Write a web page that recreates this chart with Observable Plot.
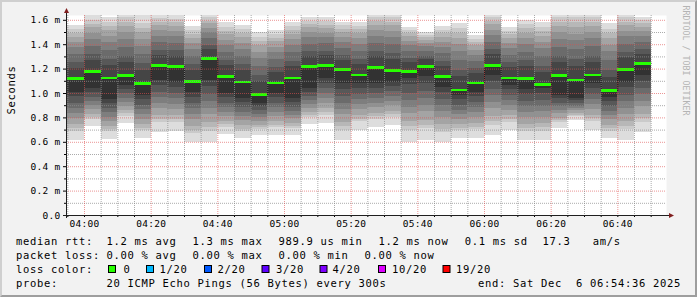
<!DOCTYPE html>
<html><head><meta charset="utf-8">
<script src="https://cdn.jsdelivr.net/npm/d3@7"></script>
<script src="https://cdn.jsdelivr.net/npm/@observablehq/plot@0.6"></script>
<style>
html,body{margin:0;padding:0;background:#f2f2f2;}
#wrap{position:relative;width:697px;height:297px;background:#f2f2f2;overflow:hidden;font-family:"DejaVu Sans Mono",monospace;}
#chart{position:absolute;left:0;top:0;}
#legend{position:absolute;left:0;top:232px;}
#chart svg,#legend svg{display:block;overflow:visible;}
#chart svg text{letter-spacing:0.28px;}
#legend svg text{letter-spacing:0.68px;font-family:"DejaVu Sans Mono",monospace;font-size:10.5px;fill:#000;white-space:pre;}
#frame{position:absolute;left:0;top:0;width:697px;height:297px;box-sizing:border-box;border-style:solid;border-width:2px;border-color:#cfcfcf #9e9e9e #9e9e9e #cfcfcf;pointer-events:none;}
</style></head>
<body>
<div id="wrap"><div id="chart"></div><div id="legend"></div><div id="frame"></div></div>
<script>
// ---- data ----
const day = "2025-12-06";
const viewStart = "03:54:36", viewEnd = "06:54:36";
const slots = ["03:55","04:00","04:05","04:10","04:15","04:20","04:25","04:30","04:35","04:40","04:45","04:50",
  "04:55","05:00","05:05","05:10","05:15","05:20","05:25","05:30","05:35","05:40","05:45","05:50",
  "05:55","06:00","06:05","06:10","06:15","06:20","06:25","06:30","06:35","06:40","06:45"];
const medians = [1.122,1.181,1.126,1.148,1.081,1.228,1.220,1.097,1.285,1.138,1.094,0.993,1.088,1.127,1.220,1.231,1.195,1.151,
  1.212,1.187,1.179,1.220,1.140,1.029,1.088,1.231,1.127,1.124,1.072,1.149,1.110,1.153,1.023,1.198,1.247];
const pings = [
 [0.616,0.687,0.711,0.743,0.794,0.834,0.877,0.921,0.972,1.012,1.122,1.209,1.253,1.319,1.375,1.419,1.463,1.493,1.524,1.559],
 [0.733,0.788,0.807,0.831,0.871,0.902,0.936,0.969,1.009,1.040,1.181,1.273,1.319,1.386,1.445,1.491,1.537,1.566,1.600,1.700],
 [0.627,0.685,0.705,0.731,0.773,0.806,0.841,0.877,0.919,0.952,1.126,1.226,1.276,1.351,1.415,1.465,1.515,1.550,1.585,1.625],
 [0.758,0.814,0.832,0.857,0.897,0.928,0.962,0.996,1.036,1.067,1.148,1.252,1.304,1.379,1.445,1.497,1.549,1.582,1.620,1.700],
 [0.630,0.694,0.715,0.744,0.790,0.826,0.865,0.904,0.950,0.986,1.081,1.189,1.242,1.321,1.389,1.443,1.497,1.531,1.570,1.700],
 [0.684,0.760,0.786,0.820,0.875,0.918,0.964,1.011,1.066,1.109,1.228,1.313,1.355,1.417,1.471,1.514,1.556,1.583,1.614,1.700],
 [0.687,0.760,0.785,0.817,0.870,0.911,0.956,1.000,1.053,1.094,1.220,1.306,1.349,1.411,1.466,1.509,1.552,1.579,1.610,1.700],
 [0.602,0.676,0.700,0.733,0.786,0.827,0.873,0.918,0.971,1.012,1.097,1.188,1.234,1.302,1.361,1.407,1.453,1.485,1.517,1.553],
 [0.597,0.689,0.720,0.761,0.827,0.879,0.935,0.991,1.058,1.109,1.285,1.359,1.396,1.449,1.496,1.533,1.570,1.593,1.620,1.700],
 [0.662,0.722,0.743,0.770,0.813,0.847,0.884,0.921,0.964,0.998,1.138,1.226,1.270,1.336,1.393,1.437,1.481,1.512,1.543,1.578],
 [0.630,0.689,0.709,0.735,0.778,0.810,0.846,0.883,0.925,0.958,1.094,1.187,1.234,1.303,1.364,1.410,1.457,1.489,1.522,1.559],
 [0.657,0.704,0.719,0.740,0.774,0.800,0.829,0.857,0.891,0.917,0.993,1.095,1.146,1.223,1.289,1.340,1.392,1.427,1.463,1.504],
 [0.657,0.719,0.739,0.767,0.811,0.846,0.883,0.921,0.966,1.000,1.088,1.174,1.217,1.282,1.337,1.380,1.423,1.454,1.484,1.518],
 [0.657,0.711,0.729,0.753,0.792,0.823,0.856,0.889,0.928,0.958,1.127,1.219,1.265,1.334,1.393,1.439,1.485,1.517,1.549,1.586],
 [0.750,0.802,0.820,0.843,0.880,0.909,0.941,0.973,1.011,1.040,1.220,1.301,1.342,1.403,1.456,1.497,1.537,1.566,1.594,1.627],
 [0.757,0.823,0.845,0.874,0.921,0.958,0.998,1.038,1.085,1.122,1.231,1.309,1.347,1.406,1.456,1.495,1.534,1.561,1.588,1.619],
 [0.616,0.700,0.727,0.764,0.825,0.871,0.922,0.973,1.034,1.080,1.195,1.273,1.312,1.371,1.422,1.461,1.500,1.527,1.555,1.586],
 [0.698,0.767,0.790,0.820,0.870,0.908,0.950,0.992,1.042,1.080,1.151,1.238,1.282,1.347,1.403,1.447,1.490,1.521,1.551,1.586],
 [0.725,0.789,0.810,0.839,0.885,0.920,0.959,0.998,1.044,1.080,1.212,1.302,1.347,1.412,1.469,1.514,1.559,1.587,1.620,1.700],
 [0.740,0.804,0.825,0.853,0.899,0.935,0.974,1.013,1.059,1.094,1.187,1.282,1.330,1.399,1.460,1.507,1.555,1.585,1.620,1.700],
 [0.602,0.696,0.727,0.768,0.836,0.888,0.945,1.002,1.070,1.122,1.179,1.252,1.289,1.344,1.391,1.428,1.464,1.490,1.516,1.545],
 [0.616,0.710,0.741,0.782,0.850,0.902,0.959,1.016,1.084,1.136,1.220,1.276,1.304,1.346,1.382,1.410,1.438,1.457,1.477,1.499],
 [0.600,0.682,0.709,0.745,0.804,0.849,0.899,0.949,1.008,1.053,1.140,1.223,1.264,1.326,1.380,1.421,1.462,1.491,1.520,1.553],
 [0.630,0.694,0.715,0.744,0.790,0.825,0.864,0.903,0.949,0.985,1.029,1.138,1.192,1.273,1.344,1.398,1.453,1.491,1.529,1.572],
 [0.635,0.703,0.725,0.756,0.805,0.842,0.884,0.925,0.974,1.012,1.088,1.166,1.205,1.263,1.314,1.353,1.391,1.419,1.446,1.477],
 [0.652,0.741,0.771,0.811,0.876,0.925,0.980,1.035,1.099,1.149,1.231,1.317,1.359,1.422,1.476,1.519,1.562,1.589,1.620,1.700],
 [0.698,0.764,0.787,0.816,0.864,0.901,0.942,0.982,1.030,1.067,1.127,1.211,1.252,1.315,1.369,1.411,1.453,1.482,1.512,1.545],
 [0.616,0.691,0.716,0.749,0.804,0.845,0.891,0.937,0.991,1.033,1.124,1.219,1.267,1.338,1.400,1.448,1.495,1.529,1.562,1.600],
 [0.616,0.692,0.718,0.752,0.807,0.849,0.896,0.942,0.998,1.040,1.072,1.174,1.225,1.301,1.367,1.418,1.469,1.505,1.540,1.581],
 [0.710,0.759,0.776,0.798,0.834,0.861,0.891,0.922,0.957,0.985,1.149,1.253,1.304,1.380,1.446,1.498,1.549,1.582,1.620,1.700],
 [0.775,0.808,0.819,0.834,0.857,0.876,0.896,0.916,0.940,0.958,1.110,1.222,1.278,1.360,1.431,1.487,1.544,1.579,1.620,1.700],
 [0.700,0.768,0.791,0.822,0.871,0.909,0.951,0.993,1.042,1.080,1.153,1.256,1.307,1.382,1.447,1.499,1.550,1.583,1.620,1.700],
 [0.630,0.691,0.712,0.739,0.783,0.818,0.855,0.893,0.937,0.971,1.023,1.133,1.188,1.270,1.341,1.396,1.451,1.490,1.528,1.572],
 [0.616,0.702,0.731,0.769,0.831,0.879,0.931,0.984,1.046,1.094,1.198,1.291,1.337,1.405,1.464,1.510,1.557,1.586,1.620,1.700],
 [0.680,0.764,0.793,0.830,0.891,0.938,0.990,1.041,1.102,1.149,1.247,1.323,1.361,1.418,1.467,1.505,1.543,1.570,1.597,1.627]
];
const stepMinutes = 5;
const yMajor = [0,0.2,0.4,0.6,0.8,1.0,1.2,1.4,1.6];
const yMinor = [0.1,0.3,0.5,0.7,0.9,1.1,1.3,1.5];
const xMajor = ["04:00","04:20","04:40","05:00","05:20","05:40","06:00","06:20","06:40"];
const yLabel = "Seconds";
const watermark = "RRDTOOL / TOBI OETIKER";
const lossLabels = ["0","1/20","2/20","3/20","4/20","10/20","19/20"];
const lossColors = ["#26ff00","#00b8ff","#0059ff","#5e00ff","#7e00ff","#dd00ff","#ff0000"];
const smokeGrays = ["#dddddd","#cacaca","#b7b7b7","#a4a4a4","#919191","#7e7e7e","#6b6b6b","#585858","#454545","#323232"];
const rttRow = ["median rtt:","1.2 ms avg","1.3 ms max","989.9 us min","1.2 ms now","0.1 ms sd","17.3","am/s"];
const lossRow = ["packet loss:","0.00 % avg","0.00 % max","0.00 % min","0.00 % now"];
const colorRowTitle = "loss color:";
const probeRow = ["probe:","20 ICMP Echo Pings (56 Bytes) every 300s","end: Sat Dec  6 06:54:36 2025"];

// ---- build ----
const T = hm => new Date(`${day}T${hm.length === 5 ? hm + ":00" : hm}Z`);
const cols = slots.map((s, i) => ({start: T(s), end: new Date(+T(s) + stepMinutes * 60000), median: medians[i], p: pings[i]}));
const bands = smokeGrays.map((g, k) => cols.map(c => ({start: c.start, end: c.end, lo: c.p[k], hi: c.p[19 - k]})));
const stepPts = cols.flatMap(c => [{t: c.start, v: c.median}, {t: c.end, v: c.median}]);
const majorDates = xMajor.map(T);
const allBounds = cols.map(c => c.start).concat([cols[cols.length - 1].end]);
const minorDates = allBounds.filter(d => !xMajor.includes(d.toISOString().slice(11, 16)));

const W = 697, H = 232, plotBottom = 215, plotTop = 15;
const yMax = (plotBottom - plotTop) / 122;
const fmtY = v => v === 0 ? "0.0" : v.toFixed(1) + " m";
const gridGray = {stroke: "rgb(143,143,143)", strokeOpacity: 0.75, strokeDasharray: "1,1"};
const gridRed = {stroke: "rgb(222,79,79)", strokeOpacity: 0.6, strokeDasharray: "1,1"};

const chart = Plot.plot({
  width: W, height: H,
  marginLeft: 66, marginRight: 31, marginTop: plotTop, marginBottom: H - plotBottom,
  x: {type: "utc", domain: [T(viewStart), T(viewEnd)]},
  y: {domain: [0, yMax]},
  style: {background: "transparent", fontFamily: "DejaVu Sans Mono", fontSize: "9.5px", color: "#000", overflow: "visible"},
  marks: [
    Plot.frame({fill: "white", stroke: "none"}),
    ...bands.map((b, k) => Plot.rect(b, {x1: "start", x2: "end", y1: "lo", y2: "hi", fill: smokeGrays[k], shapeRendering: "crispEdges", clip: true})),
    Plot.line(stepPts, {x: "t", y: "v", stroke: "#202020", strokeWidth: 1, clip: true}),
    Plot.ruleY(cols, {x1: "start", x2: "end", y: "median", stroke: lossColors[0], strokeWidth: 2.5, shapeRendering: "crispEdges"}),
    Plot.gridY(yMinor, gridGray),
    Plot.gridY(yMajor.filter(v => v > 0), gridRed),
    Plot.gridX(minorDates, gridGray),
    Plot.gridX(majorDates, gridRed),
    Plot.axisY(yMajor, {tickSize: 3, tickPadding: 3, tickFormat: fmtY, fontSize: 9.5}),
    Plot.axisY(yMinor, {tickSize: 2, text: null}),
    Plot.axisX(majorDates, {tickSize: 2, tickPadding: 3, tickFormat: d3.utcFormat("%H:%M"), fontSize: 9.5}),
    Plot.axisX(minorDates, {tickSize: 2, text: null}),
    Plot.text([yLabel], {frameAnchor: "left", dx: -55.3, dy: -1, rotate: -90, fontSize: 10.5, fill: "#000"}),
    Plot.text([watermark], {frameAnchor: "top-right", dx: 22.3, dy: -10, rotate: 90, textAnchor: "start", fontSize: 8.3, fill: "#b4b4b4"})
  ]
});
document.getElementById("chart").appendChild(chart);

// axis lines and arrows (from the scales' ranges)
const svg = d3.select(chart);
svg.selectAll("text").filter(function () { return this.textContent === yLabel; }).style("letter-spacing", "0.68px");
svg.selectAll("text").filter(function () { return this.textContent === watermark; }).style("letter-spacing", "0px");
const [xa, xb] = chart.scale("x").range;
const [ya, yb] = chart.scale("y").range;
const ax = svg.append("g");
ax.append("line").attr("x1", xa - 3).attr("x2", xb + 3).attr("y1", ya + 0.5).attr("y2", ya + 0.5).attr("stroke", "#1f1f1f");
ax.append("line").attr("x1", xa + 0.5).attr("x2", xa + 0.5).attr("y1", ya + 3).attr("y2", yb - 2).attr("stroke", "#1f1f1f");
ax.append("path").attr("d", `M${xb + 3},${ya - 2}L${xb + 8},${ya + 0.5}L${xb + 3},${ya + 3}Z`).attr("fill", "#801f1f");
ax.append("path").attr("d", `M${xa - 2},${yb - 2}L${xa + 0.5},${yb - 7}L${xa + 3},${yb - 2}Z`).attr("fill", "#801f1f");

// legend (below the chart)
const lg = d3.select("#legend").append("svg").attr("width", W).attr("height", 297 - H);
const base = [13, 27, 41, 55];
const rttX = [16, 106.5, 192.5, 278.5, 378.5, 464.8, 542.5, 592.8];
const lossX = [16, 106.5, 192.5, 278.5, 364.5];
const boxX = [108.5, 146.5, 204.5, 262, 320, 378.5, 443];
const labX = [123.5, 159.5, 217.5, 276, 332.5, 392, 456];
const probeX = [16, 106.5, 478];
const addText = (x, y, s) => lg.append("text").attr("x", x).attr("y", y).attr("xml:space", "preserve").style("white-space", "pre").text(s);
rttRow.forEach((s, i) => addText(rttX[i], base[0], s));
lossRow.forEach((s, i) => addText(lossX[i], base[1], s));
addText(16, base[2], colorRowTitle);
lossLabels.forEach((s, i) => {
  lg.append("rect").attr("x", boxX[i]).attr("y", base[2] - 7.5).attr("width", 7).attr("height", 7)
    .attr("fill", lossColors[i]).attr("stroke", "#000").attr("stroke-width", 1);
  addText(labX[i], base[2], s);
});
probeRow.forEach((s, i) => addText(probeX[i], base[3], s));
</script>
</body></html>
